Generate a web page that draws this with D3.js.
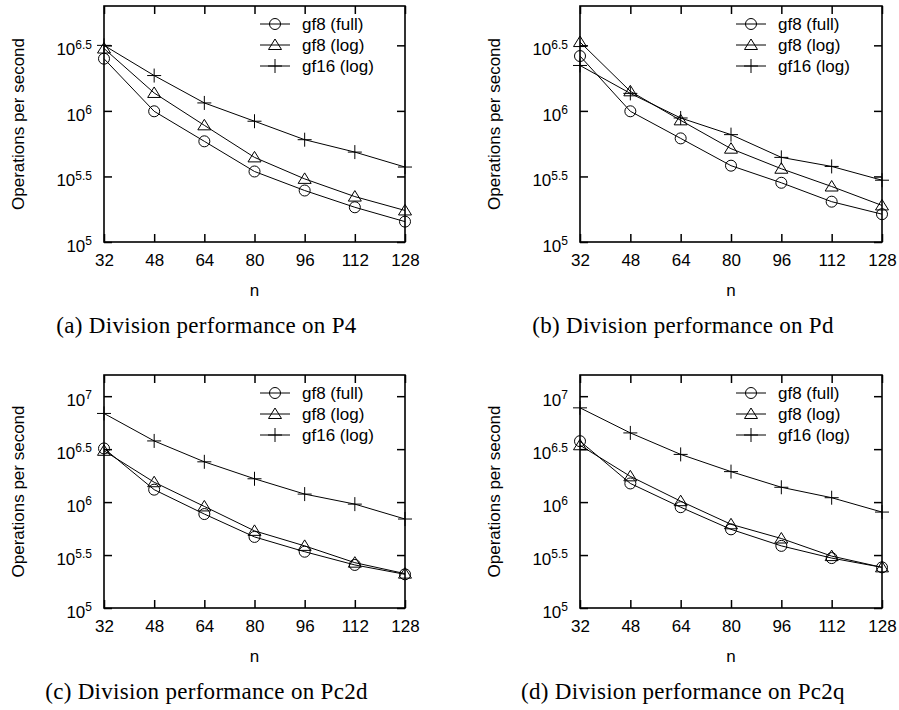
<!DOCTYPE html>
<html>
<head>
<meta charset="utf-8">
<script src="https://cdn.jsdelivr.net/npm/d3@7"></script>
<style>
  body { margin: 0; background: #fff; }
  text { fill: #000; }
</style>
</head>
<body>
<svg id="chart" width="899" height="710"></svg>
<script>
/****** Data (operations per second) ******/
const nValues = [32, 48, 64, 80, 96, 112, 128];
const seriesNames = ["gf8 (full)", "gf8 (log)", "gf16 (log)"];
const expTicksLow = ["5", "5.5", "6", "6.5"];
const expTicksHigh = ["5", "5.5", "6", "6.5", "7"];

// (a) P4
const p4Full = [2.50e6, 9.93e5, 5.86e5, 3.45e5, 2.47e5, 1.84e5, 1.43e5];
const p4Log  = [2.99e6, 1.37e6, 7.76e5, 4.42e5, 3.03e5, 2.22e5, 1.74e5];
const p4Gf16 = [3.16e6, 1.86e6, 1.15e6, 8.34e5, 6.03e5, 4.85e5, 3.73e5];

// (b) Pd
const pdFull = [2.62e6, 9.93e5, 6.17e5, 3.82e5, 2.83e5, 2.03e5, 1.63e5];
const pdLog  = [3.35e6, 1.41e6, 8.47e5, 5.15e5, 3.62e5, 2.65e5, 1.90e5];
const pdGf16 = [2.22e6, 1.36e6, 8.83e5, 6.59e5, 4.42e5, 3.77e5, 2.96e5];

// (c) Pc2d
const pc2dFull = [3.21e6, 1.31e6, 7.71e5, 4.69e5, 3.40e5, 2.55e5, 2.08e5];
const pc2dLog  = [3.05e6, 1.54e6, 9.10e5, 5.35e5, 3.86e5, 2.68e5, 2.11e5];
const pc2dGf16 = [6.87e6, 3.78e6, 2.40e6, 1.66e6, 1.19e6, 9.57e5, 6.92e5];

// (d) Pc2q
const pc2qFull = [3.76e6, 1.50e6, 8.95e5, 5.53e5, 3.86e5, 2.96e5, 2.42e5];
const pc2qLog  = [3.44e6, 1.75e6, 1.02e6, 6.17e5, 4.53e5, 3.09e5, 2.42e5];
const pc2qGf16 = [7.76e6, 4.50e6, 2.82e6, 1.94e6, 1.38e6, 1.10e6, 8.05e5];

/** panel layout **/
const panels = [
    {caption: "(a) Division performance on P4", series: [p4Full, p4Log, p4Gf16],
     ticks: expTicksLow, yMaxExp: 6.8, left: 104, right: 405, top: 6, bottom: 242},
    {caption: "(b) Division performance on Pd", series: [pdFull, pdLog, pdGf16],
     ticks: expTicksLow, yMaxExp: 6.8, left: 580, right: 882, top: 6, bottom: 242},
    {caption: "(c) Division performance on Pc2d", series: [pc2dFull, pc2dLog, pc2dGf16],
     ticks: expTicksHigh, yMaxExp: 7.2, left: 104, right: 405, top: 375, bottom: 608},
    {caption: "(d) Division performance on Pc2q", series: [pc2qFull, pc2qLog, pc2qGf16],
     ticks: expTicksHigh, yMaxExp: 7.2, left: 580, right: 882, top: 375, bottom: 608}
];

const sans = "'Liberation Sans', Arial, Helvetica, sans-serif";
const serif = "'Liberation Serif', 'Times New Roman', serif";
const svg = d3.select("#chart");

/** draw one point symbol **/
function drawMarker(g, type, cx, cy) {
    if (type === 0) {
        g.append("circle")
            .attr("cx", cx).attr("cy", cy).attr("r", 5.5)
            .attr("fill", "none").attr("stroke", "#000").attr("stroke-width", 1);
    } else if (type === 1) {
        g.append("path")
            .attr("d", "M" + (cx - 6.5) + "," + (cy + 4.5) + "L" + (cx + 6.5) + "," + (cy + 4.5) +
                "L" + cx + "," + (cy - 6) + "Z")
            .attr("fill", "none").attr("stroke", "#000").attr("stroke-width", 1);
    } else {
        g.append("path")
            .attr("d", "M" + (cx - 7) + "," + cy + "H" + (cx + 7) + "M" + cx + "," + (cy - 7) + "V" + (cy + 7))
            .attr("fill", "none").attr("stroke", "#000").attr("stroke-width", 1);
    }
}

function styleAxis(a) {
    a.select(".domain").remove();
    a.selectAll("line").attr("stroke", "#000").attr("stroke-width", 1.5);
    a.attr("font-family", sans).attr("font-size", 17);
}

/** draw one subplot **/
function drawPanel(p) {
    var x = d3.scaleLinear().domain([32, 128]).range([p.left, p.right]);
    var y = d3.scaleLog().domain([1e5, Math.pow(10, p.yMaxExp)]).range([p.bottom, p.top]);
    var tickVals = p.ticks.map(function (e) { return Math.pow(10, +e); });

    var g = svg.append("g");

    g.append("g")
        .attr("transform", "translate(0," + p.bottom + ")")
        .call(d3.axisBottom(x).tickValues(nValues).tickSize(-8).tickPadding(12))
        .call(styleAxis);

    g.append("g")
        .attr("transform", "translate(0," + p.top + ")")
        .call(d3.axisTop(x).tickValues(nValues).tickSize(-8).tickFormat(""))
        .call(styleAxis);

    var yl = g.append("g")
        .attr("transform", "translate(" + p.left + ",0)")
        .call(d3.axisLeft(y).tickValues(tickVals).tickSize(-8).tickPadding(12).tickFormat(function () { return "10"; }))
        .call(styleAxis);
    yl.selectAll(".tick text").each(function (d, i) {
        d3.select(this).append("tspan")
            .attr("dy", "-0.55em")
            .attr("font-size", 12)
            .text(p.ticks[i]);
    });
    yl.selectAll(".tick text").attr("dy", "0.55em");

    g.append("g")
        .attr("transform", "translate(" + p.right + ",0)")
        .call(d3.axisRight(y).tickValues(tickVals).tickSize(-8).tickFormat(""))
        .call(styleAxis);

    // frame
    g.append("rect")
        .attr("x", p.left).attr("y", p.top)
        .attr("width", p.right - p.left).attr("height", p.bottom - p.top)
        .attr("fill", "none").attr("stroke", "#000").attr("stroke-width", 1.6);

    // axis titles
    g.append("text")
        .attr("transform", "translate(" + (p.left - 86) + "," + ((p.top + p.bottom) / 2) + ") rotate(-90)")
        .attr("text-anchor", "middle")
        .attr("dominant-baseline", "central")
        .attr("font-family", sans).attr("font-size", 17)
        .text("Operations per second");

    g.append("text")
        .attr("x", (p.left + p.right) / 2).attr("y", p.bottom + 54)
        .attr("text-anchor", "middle")
        .attr("font-family", sans).attr("font-size", 17)
        .text("n");

    // series
    var line = d3.line()
        .x(function (d, i) { return x(nValues[i]); })
        .y(function (d) { return y(d); });

    p.series.forEach(function (s, k) {
        g.append("path")
            .datum(s)
            .attr("fill", "none")
            .attr("stroke", "#000")
            .attr("stroke-width", 1)
            .attr("d", line);
        s.forEach(function (v, i) {
            drawMarker(g, k, x(nValues[i]), y(v));
        });
    });

    // legend
    seriesNames.forEach(function (name, k) {
        var ly = p.top + 18 + 21 * k;
        g.append("line")
            .attr("x1", p.left + 156).attr("x2", p.left + 186)
            .attr("y1", ly).attr("y2", ly)
            .attr("stroke", "#000").attr("stroke-width", 1);
        drawMarker(g, k, p.left + 171, ly);
        g.append("text")
            .attr("x", p.left + 198).attr("y", ly)
            .attr("dominant-baseline", "central")
            .attr("font-family", sans).attr("font-size", 17)
            .text(name);
    });

    // caption
    g.append("text")
        .attr("x", (p.left + p.right) / 2 - 48).attr("y", p.bottom + 91)
        .attr("text-anchor", "middle")
        .attr("font-family", serif).attr("font-size", 23)
        .attr("letter-spacing", 0.3)
        .text(p.caption);
}

panels.forEach(drawPanel);
</script>
</body>
</html>
